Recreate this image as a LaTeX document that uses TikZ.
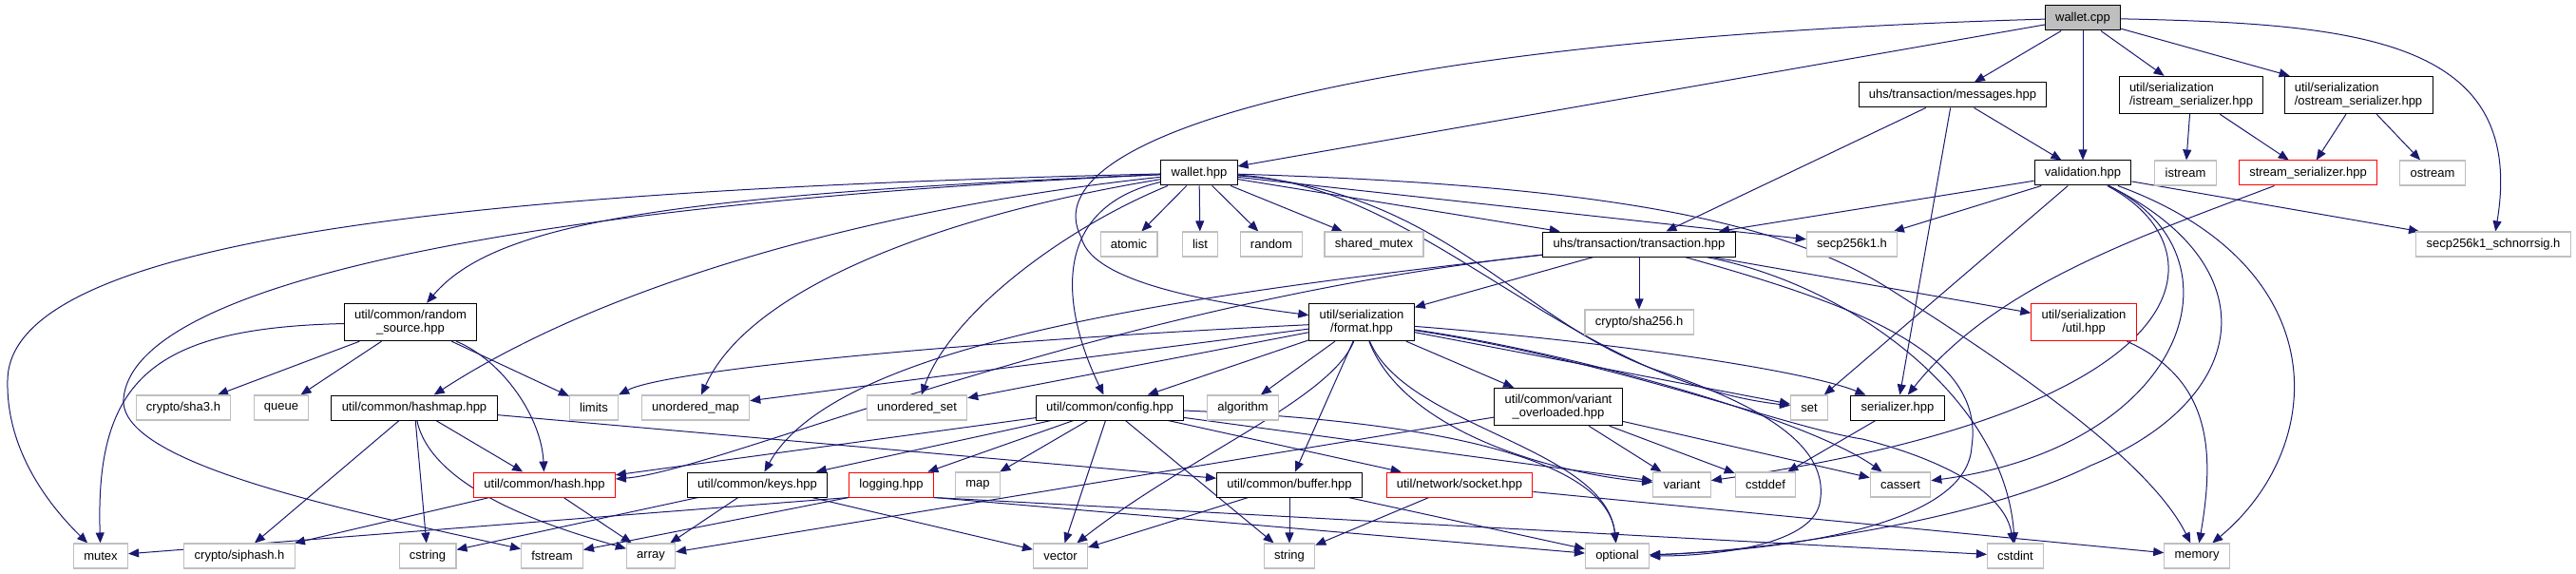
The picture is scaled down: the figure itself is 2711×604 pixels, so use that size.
\documentclass[tikz,border=0pt]{standalone}
\usepackage{fontspec}
\setmainfont{Liberation Sans}
\usetikzlibrary{arrows.meta,backgrounds}
\definecolor{edgeblue}{HTML}{191970}
\definecolor{sysgray}{HTML}{BFBFBF}

\begin{document}
\begin{tikzpicture}[x=1pt,y=-1pt,
  every node/.style={font=\fontsize{13}{14.3}\selectfont, rectangle,
    minimum height=26pt, inner xsep=10.8pt, inner ysep=6.5pt, fill=white},
  file/.style={draw=black, line width=1pt},
  sys/.style={draw=sysgray, line width=1.1pt},
  trunc/.style={draw=red, line width=1pt},
  root/.style={draw=black, fill=sysgray, line width=1pt},
  dep/.style={draw=edgeblue, line width=1pt, -{Triangle[length=11pt,width=9pt]}}]
  \useasboundingbox (0,0) rectangle (2711,604);

  % level 0 to 2
  \node[root] (wcpp) at (2192,19) {wallet.cpp};
  \node[file] (msgs) at (2055,100) {uhs/transaction/messages.hpp};
  \node[file, align=left] (iser) at (2306,100) {util/serialization\\/istream\_serializer.hpp};
  \node[file, align=left] (oser) at (2482,100) {util/serialization\\/ostream\_serializer.hpp};
  \node[file] (whpp) at (1262,182) {wallet.hpp};
  \node[file] (valid) at (2192,182) {validation.hpp};
  \node[sys] (istream) at (2300,182) {istream};
  \node[trunc] (sser) at (2429,182) {stream\_serializer.hpp};
  \node[sys] (ostream) at (2560,182) {ostream};

  % level 3
  \node[sys] (atomic) at (1188,257) {atomic};
  \node[sys] (list) at (1263,257) {list};
  \node[sys] (random) at (1338,257) {random};
  \node[sys] (shmutex) at (1446,257) {shared\_mutex};
  \node[file] (trans) at (1725,257) {uhs/transaction/transaction.hpp};
  \node[sys] (secp) at (1949,257) {secp256k1.h};
  \node[sys] (schnorr) at (2624,257) {secp256k1\_schnorrsig.h};

  % level 4
  \node[file, align=center] (rsrc) at (432,339) {util/common/random\\\_source.hpp};
  \node[file, align=center] (format) at (1433,339) {util/serialization\\/format.hpp};
  \node[sys] (sha256) at (1725,339) {crypto/sha256.h};
  \node[trunc, align=center] (utilh) at (2193,339) {util/serialization\\/util.hpp};

  % level 5
  \node[sys] (sha3) at (193,429) {crypto/sha3.h};
  \node[sys] (queue) at (296,429) {queue};
  \node[file] (hashmap) at (436,429) {util/common/hashmap.hpp};
  \node[sys] (limits) at (625,429) {limits};
  \node[sys] (umap) at (732,429) {unordered\_map};
  \node[sys] (uset) at (965,429) {unordered\_set};
  \node[file] (config) at (1168,429) {util/common/config.hpp};
  \node[sys] (algorithm) at (1308,429) {algorithm};
  \node[file, align=center] (varov) at (1640,428) {util/common/variant\\\_overloaded.hpp};
  \node[sys] (set) at (1904,429) {set};
  \node[file] (serial) at (1997,429) {serializer.hpp};

  % level 6
  \node[trunc] (hash) at (573,510) {util/common/hash.hpp};
  \node[file] (keys) at (797,510) {util/common/keys.hpp};
  \node[trunc] (logging) at (938,510) {logging.hpp};
  \node[sys] (map) at (1029,510) {map};
  \node[file] (buffer) at (1357,510) {util/common/buffer.hpp};
  \node[trunc] (socket) at (1536,510) {util/network/socket.hpp};
  \node[sys] (variant) at (1770,510) {variant};
  \node[sys] (cstddef) at (1858,510) {cstddef};
  \node[sys] (cassert) at (2000,510) {cassert};

  % level 7
  \node[sys] (mutex) at (106,585) {mutex};
  \node[sys] (siphash) at (252,585) {crypto/siphash.h};
  \node[sys] (cstring) at (450,585) {cstring};
  \node[sys] (fstream) at (581,585) {fstream};
  \node[sys] (array) at (685,585) {array};
  \node[sys] (vector) at (1116,585) {vector};
  \node[sys] (string) at (1357,585) {string};
  \node[sys] (optional) at (1702,585) {optional};
  \node[sys] (cstdint) at (2121,585) {cstdint};
  \node[sys] (memory) at (2312,585) {memory};

  \begin{scope}[on background layer]
  % wallet.cpp
  \draw[dep] (wcpp) -- (whpp);
  \draw[dep] (wcpp) -- (msgs);
  \draw[dep] (wcpp) -- (valid);
  \draw[dep] (wcpp) -- (iser);
  \draw[dep] (wcpp) -- (oser);
  \draw[dep] (wcpp) .. controls (2480,25) and (2660,40) .. (schnorr);
  \draw[dep] (wcpp) .. controls (1450,40) and (1080,140) .. (1138,250)
    .. controls (1150,300) and (1290,320) .. (format);

  \draw[dep] (msgs) -- (trans);
  \draw[dep] (msgs) -- (valid);
  \draw[dep] (msgs) -- (serial);
  \draw[dep] (iser) -- (istream);
  \draw[dep] (iser) -- (sser);
  \draw[dep] (oser) -- (sser);
  \draw[dep] (oser) -- (ostream);
  \draw[dep] (sser) .. controls (2250,250) and (2100,300) .. (serial);

  % validation.hpp
  \draw[dep] (valid) -- (trans);
  \draw[dep] (valid) -- (secp);
  \draw[dep] (valid) -- (schnorr);
  \draw[dep] (valid) -- (set);
  \draw[dep] (valid) .. controls (2340,260) and (2330,430) .. (variant);
  \draw[dep] (valid) .. controls (2370,270) and (2300,470) .. (cassert);
  \draw[dep] (valid) .. controls (2390,280) and (2370,420) .. (2200,490)
    .. controls (2080,550) and (1850,580) .. (optional);
  \draw[dep] (valid) .. controls (2460,280) and (2450,470) .. (memory);

  % wallet.hpp
  \draw[dep] (whpp) -- (atomic);
  \draw[dep] (whpp) -- (list);
  \draw[dep] (whpp) -- (random);
  \draw[dep] (whpp) -- (shmutex);
  \draw[dep] (whpp) -- (trans);
  \draw[dep] (whpp) -- (secp);
  \draw[dep] (whpp) .. controls (1700,195) and (1880,235) .. (1990,305)
    .. controls (2100,375) and (2260,480) .. (memory);
  \draw[dep] (whpp) .. controls (500,200) and (10,250) .. (8,400)
    .. controls (6,480) and (60,540) .. (mutex);
  \draw[dep] (whpp) .. controls (600,212) and (140,290) .. (130,420)
    .. controls (125,490) and (380,540) .. (fstream);
  \draw[dep] (whpp) .. controls (700,205) and (520,235) .. (rsrc);
  \draw[dep] (whpp) .. controls (950,215) and (650,290) .. (hashmap);
  \draw[dep] (whpp) .. controls (1000,225) and (790,300) .. (umap);
  \draw[dep] (whpp) .. controls (1120,240) and (1000,330) .. (uset);
  \draw[dep] (whpp) .. controls (1100,220) and (1120,330) .. (config);
  \draw[dep] (whpp) .. controls (1500,195) and (1650,400) .. (set);
  \draw[dep] (whpp) .. controls (1520,200) and (1600,340) .. (1745,390)
    .. controls (1880,435) and (1925,480) .. (1915,530)
    .. controls (1905,575) and (1800,585) .. (optional);

  % transaction.hpp
  \draw[dep] (trans) -- (format);
  \draw[dep] (trans) -- (sha256);
  \draw[dep] (trans) -- (utilh);
  \draw[dep] (trans) .. controls (1250,310) and (880,360) .. (keys);
  \draw[dep] (trans) .. controls (1150,320) and (760,495) .. (hash);
  \draw[dep] (trans) .. controls (1950,300) and (2110,420) .. (cstdint);
  \draw[dep] (trans) .. controls (1950,320) and (2090,370) .. (2075,470)
    .. controls (2070,560) and (1850,580) .. (optional);
  \draw[dep] (utilh) .. controls (2330,400) and (2330,480) .. (memory);

  % format.hpp
  \draw[dep] (format) -- (config);
  \draw[dep] (format) -- (algorithm);
  \draw[dep] (format) -- (buffer);
  \draw[dep] (format) -- (varov);
  \draw[dep] (format) -- (umap);
  \draw[dep] (format) -- (uset);
  \draw[dep] (format) -- (set);
  \draw[dep] (format) .. controls (1000,360) and (700,390) .. (limits);
  \draw[dep] (format) .. controls (1700,360) and (1900,390) .. (serial);
  \draw[dep] (format) .. controls (1650,370) and (1900,440) .. (cassert);
  \draw[dep] (format) .. controls (1700,380) and (1880,450) .. (1960,462)
    .. controls (2050,485) and (2110,520) .. (cstdint);
  \draw[dep] (format) .. controls (1480,460) and (1650,500) .. (variant);
  \draw[dep] (format) .. controls (1480,450) and (1690,470) .. (optional);
  \draw[dep] (format) .. controls (1400,420) and (1250,480) .. (vector);

  % config.hpp
  \draw[dep] (config) -- (keys);
  \draw[dep] (config) -- (logging);
  \draw[dep] (config) -- (map);
  \draw[dep] (config) -- (vector);
  \draw[dep] (config) -- (string);
  \draw[dep] (config) -- (socket);
  \draw[dep] (config) -- (hash);
  \draw[dep] (config) -- (variant);
  \draw[dep] (config) .. controls (1450,440) and (1690,470) .. (optional);

  % random_source.hpp and hashmap.hpp
  \draw[dep] (rsrc) -- (sha3);
  \draw[dep] (rsrc) -- (queue);
  \draw[dep] (rsrc) -- (limits);
  \draw[dep] (rsrc) .. controls (530,380) and (570,440) .. (hash);
  \draw[dep] (rsrc) .. controls (160,345) and (100,400) .. (mutex);
  \draw[dep] (hashmap) -- (siphash);
  \draw[dep] (hashmap) -- (cstring);
  \draw[dep] (hashmap) -- (hash);
  \draw[dep] (hashmap) -- (buffer);
  \draw[dep] (hashmap) .. controls (455,520) and (600,560) .. (array);

  % level 6
  \draw[dep] (hash) -- (siphash);
  \draw[dep] (hash) -- (array);
  \draw[dep] (keys) -- (cstring);
  \draw[dep] (keys) -- (array);
  \draw[dep] (keys) -- (vector);
  \draw[dep] (logging.south west) -- (mutex);
  \draw[dep] (logging.south west) -- (fstream);
  \draw[dep] (logging.south east) -- (optional);
  \draw[dep] (logging.south east) -- (cstdint);
  \draw[dep] (buffer) -- (vector);
  \draw[dep] (buffer) -- (string);
  \draw[dep] (buffer) -- (optional);
  \draw[dep] (socket) -- (string);
  \draw[dep] (socket) -- (memory);
  \draw[dep] (varov) -- (variant);
  \draw[dep] (varov) -- (cstddef);
  \draw[dep] (varov) -- (cassert);
  \draw[dep] (varov) -- (array);
  \draw[dep] (serial) -- (cstddef);
  \end{scope}
\end{tikzpicture}
\end{document}
